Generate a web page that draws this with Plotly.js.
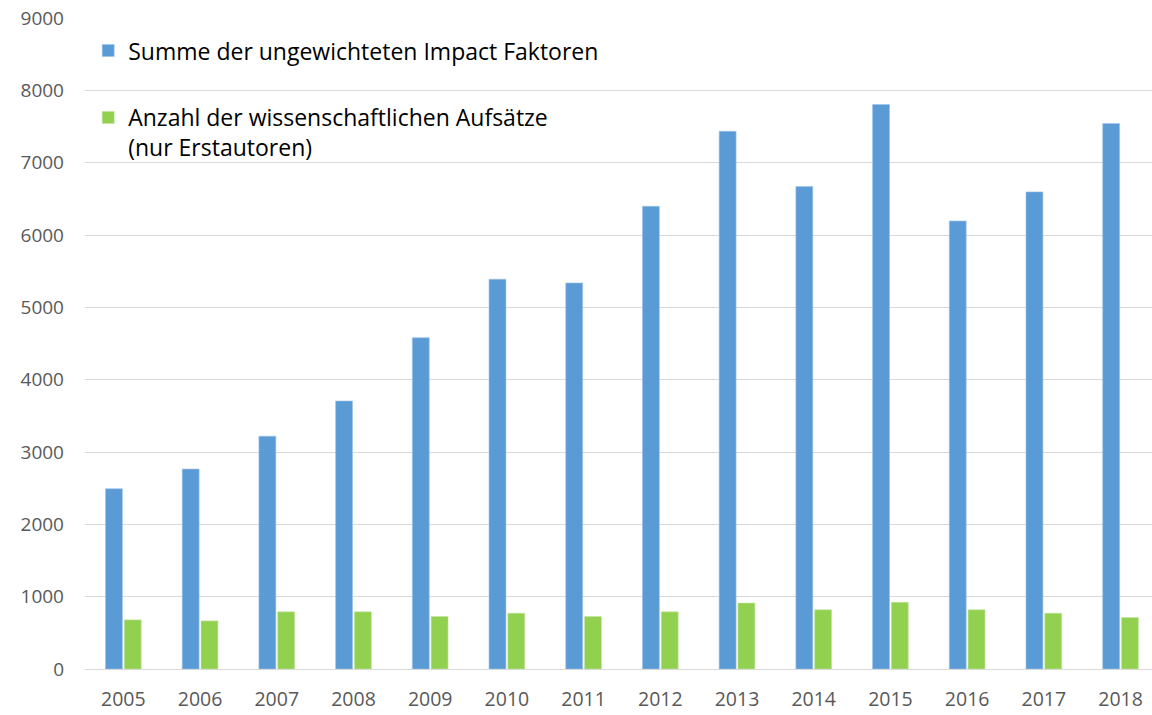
<!DOCTYPE html>
<html>
<head>
<meta charset="utf-8">
<script src="https://cdn.plot.ly/plotly-3.0.1.min.js"></script>
<style>html,body{margin:0;padding:0;background:#fff;}#chart{width:1152px;height:715px;}</style>
</head>
<body>
<div id="chart"></div>
<script>
const years = ["2005","2006","2007","2008","2009","2010","2011","2012","2013","2014","2015","2016","2017","2018"];
const impactSum = [2492, 2764, 3218, 3705, 4580, 5388, 5337, 6397, 7434, 6670, 7804, 6194, 6596, 7541];
const paperCount = [679, 665, 790, 790, 726, 772, 726, 790, 912, 818, 922, 818, 772, 712];
const seriesNames = ["Summe der ungewichteten Impact Faktoren", "Anzahl der wissenschaftlichen Aufsätze<br>(nur Erstautoren)"];
const yTicks = [0,1000,2000,3000,4000,5000,6000,7000,8000,9000];

const font = "Open Sans, DejaVu Sans, sans-serif";
const traces = [
  {type:"bar", x:years, y:impactSum, name:seriesNames[0], legendgroup:"a",
   marker:{color:"#5B9BD5", line:{color:"#9cc2e8", width:0.6}}},
  {type:"bar", x:years, y:paperCount, name:seriesNames[1], legendgroup:"b",
   marker:{color:"#92D050", line:{color:"#c2e6a0", width:0.6}}}
];
const layout = {
  width:1152, height:715,
  margin:{l:85, r:0, t:18, b:46},
  paper_bgcolor:"#fff", plot_bgcolor:"#fff",
  barmode:"group", bargap:0.51, bargroupgap:0.1,
  font:{family:font, color:"#595959", size:18},
  showlegend:true,
  legend:{x:0.003, xanchor:"left", y:0.983, yanchor:"top", valign:"top",
    traceorder:"grouped", tracegroupgap:34, bgcolor:"rgba(0,0,0,0)",
    font:{family:font, size:23, color:"#000"}},
  xaxis:{type:"category", range:[-0.5, 13.41], showgrid:false, showline:false,
    ticks:"", ticklabelstandoff:16, tickfont:{size:19.5, color:"#595959"}, fixedrange:true},
  yaxis:{range:[0,9000], tickvals:yTicks, ticktext:yTicks.map(String),
    showgrid:true, gridcolor:"#d9d9d9", gridwidth:1, zeroline:true, zerolinecolor:"#d9d9d9", zerolinewidth:1,
    showline:false, ticks:"", ticklabelstandoff:20, tickfont:{size:19, color:"#595959"}, fixedrange:true}
};
Plotly.newPlot("chart", traces, layout, {displayModeBar:false, staticPlot:true});
</script>
</body>
</html>
